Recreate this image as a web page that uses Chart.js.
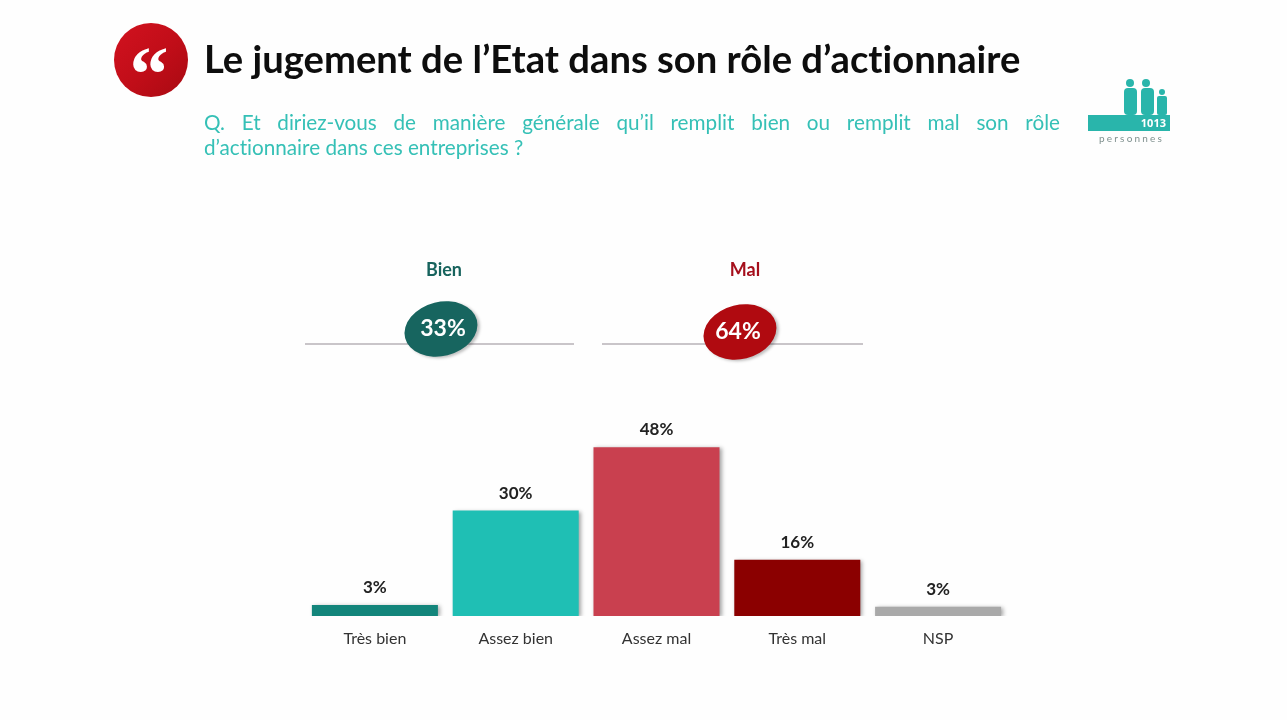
<!DOCTYPE html>
<html lang="fr">
<head>
<meta charset="utf-8">
<title>Le jugement de l'Etat dans son rôle d'actionnaire</title>
<script src="https://cdn.jsdelivr.net/npm/chart.js@4/dist/chart.umd.min.js"></script>
<style>
    html, body { margin: 0; padding: 0; background: #fefefe; overflow: hidden; }
    body { width: 1287px; height: 720px; position: relative; font-family: Lato, "Open Sans", sans-serif; font-variant-ligatures: none; }
    #chartBox { position: absolute; left: 0; top: 0; width: 1287px; height: 720px; }
    .abs { position: absolute; }
    #badge {
        left: 114px; top: 23px; width: 74px; height: 74px; border-radius: 50%;
        background: linear-gradient(135deg, #d2121f 0%, #c00d18 55%, #a80a12 100%);
    }
    #badge span {
        position: absolute; left: -2px; width: 74px; top: 12px; text-align: center;
        color: #fff; font: bold 78px/78px "Liberation Serif", serif;
    }
    #title { left: 204px; top: 34px; font-size: 38.2px; line-height: 48px; font-weight: 700; color: #0d0d0d; white-space: nowrap; }
    #question { left: 204px; top: 110px; width: 856px; color: #35c0b6; font-size: 20.7px; line-height: 25px; }
    #question span { display: block; }
    #question .firstLine { text-align: justify; text-align-last: justify; }
    .groupName { width: 120px; text-align: center; font-size: 18px; font-weight: 700; top: 258px; line-height: 22px; }
    .rule { height: 2px; top: 343px; background: #c9c5c9; }
    .oval {
        border-radius: 50%;
        box-shadow: 2px 2px 3px rgba(0, 0, 0, 0.25);
        transform: rotate(-14deg);
    }
    .ovalText { color: #fff; text-align: center; font-size: 23px; font-weight: 700; line-height: 30px; }
    .iconTeal { background: #29b5ab; }
</style>
</head>
<body>
<div id="chartBox"><canvas id="opinionChart"></canvas></div>

<div class="abs" id="badge"><span>“</span></div>
<div class="abs" id="title">Le jugement de l’Etat dans son rôle d’actionnaire</div>
<div class="abs" id="question"><span class="firstLine">Q. Et diriez-vous de manière générale qu’il remplit bien ou remplit mal son rôle</span><span>d’actionnaire dans ces entreprises ?</span></div>

<div class="abs rule" style="left:305px;width:269px"></div>
<div class="abs rule" style="left:602px;width:261px"></div>
<div class="abs groupName" id="groupA" style="left:384px;color:#17635d"></div>
<div class="abs groupName" id="groupB" style="left:685px;color:#a50f1c"></div>
<div class="abs oval" style="left:404px;top:302px;width:74px;height:54px;background:#17655f"></div>
<div class="abs ovalText" id="ovalA" style="left:405px;top:312px;width:76px"></div>
<div class="abs oval" style="left:703px;top:305px;width:74px;height:54px;background:#b00a10"></div>
<div class="abs ovalText" id="ovalB" style="left:700px;top:315px;width:76px"></div>

<!-- sample size icon -->
<div class="abs iconTeal" style="left:1126px;top:79px;width:8px;height:8px;border-radius:50%"></div>
<div class="abs iconTeal" style="left:1124px;top:88px;width:13px;height:27px;border-radius:4px"></div>
<div class="abs iconTeal" style="left:1142px;top:79px;width:8px;height:8px;border-radius:50%"></div>
<div class="abs iconTeal" style="left:1141px;top:88px;width:13px;height:27px;border-radius:4px"></div>
<div class="abs iconTeal" style="left:1159px;top:89px;width:6px;height:6px;border-radius:50%"></div>
<div class="abs iconTeal" style="left:1157px;top:96px;width:10px;height:19px;border-radius:2px"></div>
<div class="abs iconTeal" style="left:1088px;top:115px;width:82px;height:16px;color:#fff;font:bold 11px/16px 'Open Sans',sans-serif;text-align:right;box-sizing:border-box;padding-right:4px">1013</div>
<div class="abs" style="left:1099px;top:132px;color:#7f908e;font-size:10px;line-height:12px;letter-spacing:2.2px">personnes</div>

<script>
const categories = ['Très bien', 'Assez bien', 'Assez mal', 'Très mal', 'NSP'];
const shares = [3.1, 30, 48, 16, 2.6];
const barColors = ['#13857b', '#1fbfb4', '#c9404f', '#8b0000', '#a9a9a9'];
const groupNames = ['Bien', 'Mal'];
const groupTotals = [33, 64];

document.getElementById('groupA').textContent = groupNames[0];
document.getElementById('groupB').textContent = groupNames[1];
document.getElementById('ovalA').textContent = groupTotals[0] + '%';
document.getElementById('ovalB').textContent = groupTotals[1] + '%';

// soft shadow under the bars, as in the slide
const barShadow = {
    id: 'barShadow',
    beforeDatasetsDraw(chart) {
        const ctx = chart.ctx;
        ctx.save();
        ctx.shadowColor = 'rgba(0, 0, 0, 0.35)';
        ctx.shadowBlur = 4;
        ctx.shadowOffsetX = 2;
        ctx.shadowOffsetY = 1;
    },
    afterDatasetsDraw(chart) {
        chart.ctx.restore();
    }
};

// percentage above each bar
const valueLabels = {
    id: 'valueLabels',
    afterDatasetsDraw(chart) {
        const ctx = chart.ctx;
        ctx.save();
        ctx.font = '700 17px Lato';
        ctx.fillStyle = '#222';
        ctx.textAlign = 'center';
        ctx.textBaseline = 'alphabetic';
        chart.getDatasetMeta(0).data.forEach((bar, i) => {
            ctx.fillText(Math.round(shares[i]) + '%', bar.x, bar.y - 12);
        });
        ctx.restore();
    }
};

new Chart(document.getElementById('opinionChart'), {
    type: 'bar',
    data: {
        labels: categories,
        datasets: [{
            data: shares,
            backgroundColor: barColors,
            categoryPercentage: 1,
            barPercentage: 0.895
        }]
    },
    plugins: [barShadow, valueLabels],
    options: {
        responsive: true,
        maintainAspectRatio: false,
        animation: false,
        layout: { padding: { left: 304.5, right: 278.5, top: 405, bottom: 54 } },
        plugins: {
            legend: { display: false },
            tooltip: { enabled: false }
        },
        scales: {
            x: {
                grid: { display: false },
                border: { display: false },
                afterFit(scale) { scale.height = 50; },
                ticks: {
                    padding: 5,
                    maxRotation: 0,
                    color: '#333',
                    font: { family: 'Lato', size: 16 }
                }
            },
            y: {
                display: false,
                min: 0,
                max: 60
            }
        }
    }
});
</script>
</body>
</html>
